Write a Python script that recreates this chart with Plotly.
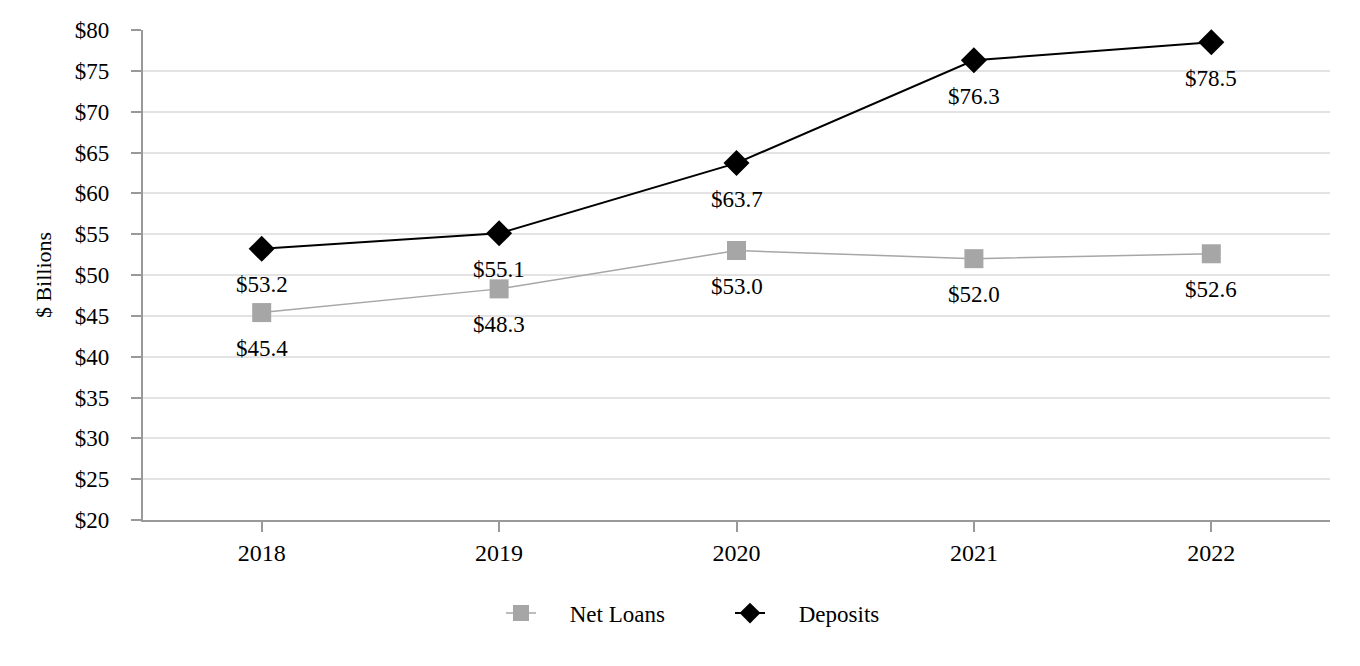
import plotly.graph_objects as go

years = ["2018", "2019", "2020", "2021", "2022"]
net_loans = [45.4, 48.3, 53.0, 52.0, 52.6]
deposits = [53.2, 55.1, 63.7, 76.3, 78.5]
y_ticks = list(range(20, 81, 5))
y_tick_labels = [f"${v}\u00a0\u00a0\u00a0" for v in y_ticks]

font_family = "Liberation Serif, Times New Roman, serif"
FS = 23
PAD = "\u00a0" * 5

fig = go.Figure()
fig.add_trace(go.Scatter(
    x=years, y=net_loans, name=PAD + "Net Loans", mode="lines+markers",
    line=dict(color="#a6a6a6", width=1.5),
    marker=dict(symbol="square", size=19, color="#a6a6a6"),
    cliponaxis=False,
))
fig.add_trace(go.Scatter(
    x=years, y=deposits, name=PAD + "Deposits", mode="lines+markers",
    line=dict(color="black", width=2),
    marker=dict(symbol="diamond", size=20, color="black"),
    cliponaxis=False,
))

# data labels below each point (category axis: annotation x is the category index)
for series in (net_loans, deposits):
    for i, v in enumerate(series):
        fig.add_annotation(
            x=i, y=v, xref="x", yref="y", text=f"${v:.1f}",
            showarrow=False, yshift=-36, yanchor="middle", xanchor="center",
            font=dict(size=FS, color="black", family=font_family),
        )

legend_x = (493 - 135) / 1187

fig.update_layout(
    width=1360, height=666,
    paper_bgcolor="white", plot_bgcolor="white",
    margin=dict(l=135, r=38, t=22, b=154, autoexpand=False),
    font=dict(family=font_family, size=FS, color="black"),
    showlegend=True,
    legend=dict(orientation="h", x=legend_x, xanchor="left",
                y=-0.19, yanchor="middle", entrywidth=184, entrywidthmode="pixels",
                font=dict(size=FS), tracegroupgap=0),
    xaxis=dict(
        type="category", range=[-0.5, 4.5],
        showline=True, linecolor="#999999", linewidth=2,
        ticks="outside", ticklen=10, tickcolor="#999999", tickwidth=2,
        showgrid=False, tickfont=dict(size=FS + 1),
    ),
    yaxis=dict(
        range=[20, 80], tickvals=y_ticks, ticktext=y_tick_labels,
        showline=True, linecolor="#999999", linewidth=2,
        ticks="outside", ticklen=10, tickcolor="#999999", tickwidth=2,
        showgrid=True, gridcolor="#e3e3e3", gridwidth=2,
        zeroline=False, tickfont=dict(size=FS),
        title=dict(text="$ Billions", font=dict(size=FS - 1), standoff=17),
    ),
)

fig.write_html("out.html")
